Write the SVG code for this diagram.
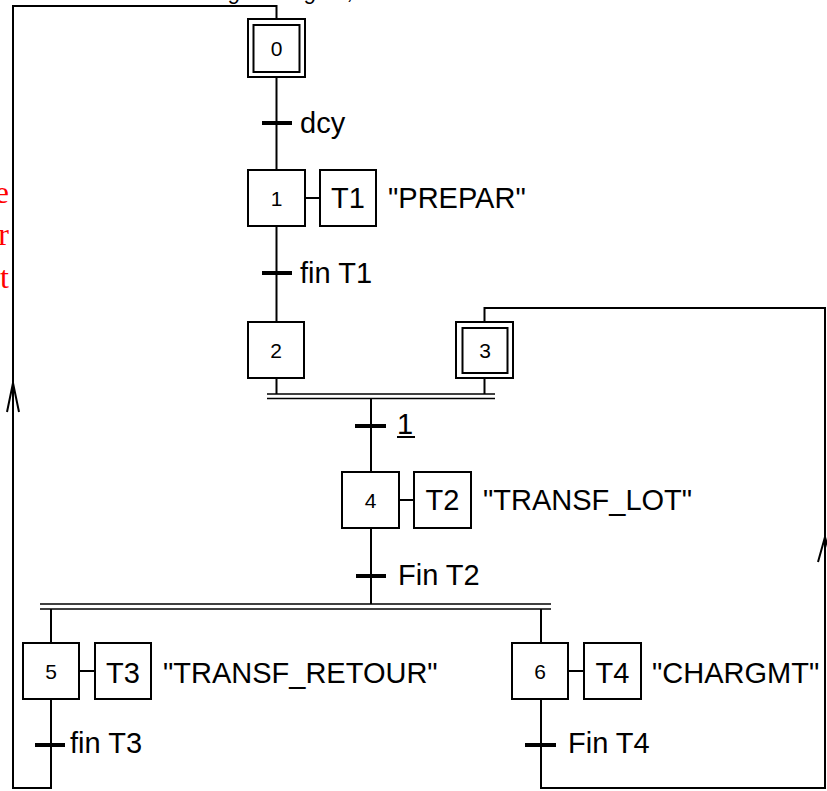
<svg xmlns="http://www.w3.org/2000/svg" width="827" height="791" viewBox="0 0 827 791">
<style>
.box{fill:#fff;stroke:#000;stroke-width:2}
.ln{fill:none;stroke:#000;stroke-width:2}
.bar{stroke:#000;stroke-width:4}
.dbl{stroke:#000;stroke-width:1.6}
.num{font-family:"Liberation Sans",Arial,sans-serif;font-size:21px;text-anchor:middle;fill:#000}
.lbl{font-family:"Liberation Sans",Arial,sans-serif;font-size:29px;fill:#000}
.act{font-family:"Liberation Sans",Arial,sans-serif;font-size:29px;text-anchor:middle;fill:#000}
.red{font-family:"Liberation Serif","Times New Roman",serif;font-size:32px;fill:#f00;text-anchor:end}
.top{font-family:"Liberation Sans",Arial,sans-serif;font-size:22px;font-style:italic;fill:#000}
</style>
<rect width="827" height="791" fill="#fff"/>

<text class="top" y="-1"><tspan x="229">g</tspan><tspan x="305">g</tspan><tspan x="348">,</tspan></text>

<g id="comment">
<text class="red" x="9" y="203">e</text>
<text class="red" x="9" y="245">r</text>
<text class="red" x="9" y="288">t</text>
</g>

<g id="connectors">
<polyline class="ln" points="276.5,19 276.5,6 13,6 13,788 51,788 51,699"/>
<line class="ln" x1="276.5" y1="77" x2="276.5" y2="170"/>
<line class="ln" x1="276.5" y1="226" x2="276.5" y2="322"/>
<line class="ln" x1="276.5" y1="378" x2="276.5" y2="394"/>
<line class="ln" x1="484.5" y1="378" x2="484.5" y2="394"/>
<polyline class="ln" points="484.5,322 484.5,308 825,308 825,788 541,788 541,699"/>
<line class="ln" x1="371" y1="398" x2="371" y2="472"/>
<line class="ln" x1="371" y1="528" x2="371" y2="604"/>
<line class="ln" x1="51" y1="609" x2="51" y2="643"/>
<line class="ln" x1="541" y1="609" x2="541" y2="643"/>
<line class="dbl" x1="267" y1="394" x2="495" y2="394"/>
<line class="dbl" x1="267" y1="398.5" x2="495" y2="398.5"/>
<line class="dbl" x1="40" y1="604" x2="551" y2="604"/>
<line class="dbl" x1="40" y1="609" x2="551" y2="609"/>
<line class="ln" x1="305" y1="198" x2="320" y2="198"/>
<line class="ln" x1="399" y1="500" x2="414" y2="500"/>
<line class="ln" x1="79" y1="671" x2="95" y2="671"/>
<line class="ln" x1="568" y1="671" x2="584" y2="671"/>
<polyline class="ln" points="7,412 13,383 19,412"/>
<polyline class="ln" points="818,562 825,537 832,562"/>
</g>

<g id="step0">
<rect class="box" x="248" y="19" width="57" height="58"/>
<rect class="box" x="253.5" y="25" width="46" height="47"/>
<text class="num" x="276.5" y="56">0</text>
</g>
<g id="t_dcy">
<line class="bar" x1="262" y1="123" x2="292" y2="123"/>
<text class="lbl" x="300" y="133">dcy</text>
</g>
<g id="step1">
<rect class="box" x="248" y="170" width="57" height="56"/>
<text class="num" x="276.5" y="206">1</text>
</g>
<g id="action1">
<rect class="box" x="320" y="170" width="56" height="56"/>
<text class="act" x="348" y="208">T1</text>
<text class="lbl" x="388" y="208">"PREPAR"</text>
</g>
<g id="t_finT1">
<line class="bar" x1="262" y1="273" x2="292" y2="273"/>
<text class="lbl" x="300" y="283">fin T1</text>
</g>
<g id="step2">
<rect class="box" x="248" y="322" width="56" height="56"/>
<text class="num" x="276" y="358">2</text>
</g>
<g id="step3">
<rect class="box" x="456" y="322" width="57" height="56"/>
<rect class="box" x="462.5" y="328" width="45" height="45"/>
<text class="num" x="485" y="358">3</text>
</g>
<g id="t_1">
<line class="bar" x1="355" y1="426" x2="386" y2="426"/>
<text class="lbl" x="397" y="434">1</text>
<line x1="397" y1="437" x2="415" y2="437" stroke="#000" stroke-width="2"/>
</g>
<g id="step4">
<rect class="box" x="342" y="472" width="57" height="56"/>
<text class="num" x="370.5" y="508">4</text>
</g>
<g id="action2">
<rect class="box" x="414" y="472" width="57" height="56"/>
<text class="act" x="442.5" y="510">T2</text>
<text class="lbl" x="483" y="510">"TRANSF_LOT"</text>
</g>
<g id="t_finT2">
<line class="bar" x1="356" y1="576" x2="386" y2="576"/>
<text class="lbl" x="398" y="585">Fin T2</text>
</g>
<g id="step5">
<rect class="box" x="23" y="643" width="56" height="56"/>
<text class="num" x="51" y="679">5</text>
</g>
<g id="action3">
<rect class="box" x="95" y="643" width="56" height="56"/>
<text class="act" x="123" y="683">T3</text>
<text class="lbl" x="163" y="683">"TRANSF_RETOUR"</text>
</g>
<g id="t_finT3">
<line class="bar" x1="35" y1="745" x2="65" y2="745"/>
<text class="lbl" x="70" y="753">fin T3</text>
</g>
<g id="step6">
<rect class="box" x="512" y="643" width="56" height="56"/>
<text class="num" x="540" y="679">6</text>
</g>
<g id="action4">
<rect class="box" x="584" y="643" width="57" height="56"/>
<text class="act" x="612.5" y="683">T4</text>
<text class="lbl" x="652" y="683">"CHARGMT"</text>
</g>
<g id="t_finT4">
<line class="bar" x1="525" y1="745" x2="556" y2="745"/>
<text class="lbl" x="568" y="753">Fin T4</text>
</g>
</svg>
